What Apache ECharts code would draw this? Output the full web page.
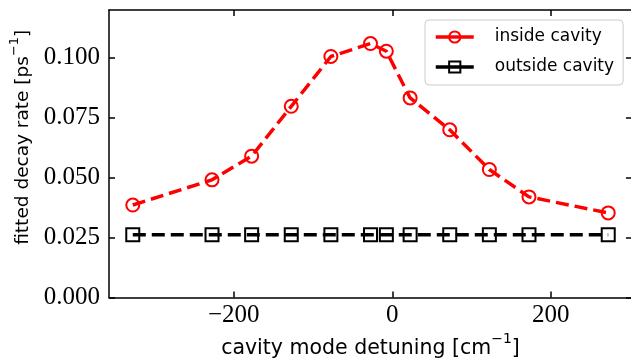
<!DOCTYPE html>
<html>
<head>
<meta charset="utf-8">
<script src="https://cdn.jsdelivr.net/npm/echarts@6/dist/echarts.min.js"></script>
<style>html,body{margin:0;padding:0;background:#fff;overflow:hidden;}#c{width:631px;height:360px;}</style>
</head>
<body>
<div id="c"></div>
<script>
var detuning = [-327.5, -227.5, -177.5, -127.5, -77.5, -27.5, -7.5, 22.5, 72.5, 122.5, 172.5, 272.5];
var insideRate = [0.0386, 0.0491, 0.0590, 0.0798, 0.1006, 0.1060, 0.1028, 0.0833, 0.0700, 0.0534, 0.0420, 0.0353];
var outsideRate = [0.0262, 0.0262, 0.0262, 0.0262, 0.0262, 0.0262, 0.0262, 0.0262, 0.0262, 0.0262, 0.0262, 0.0262];
var xTicks = [-200, 0, 200];
var yTicks = [0, 0.025, 0.05, 0.075, 0.1];
var seriesNames = ['inside cavity', 'outside cavity'];

var xMin = -357.5, xMax = 302.5, yMin = 0, yMax = 0.12;
var tickFont = 'Liberation Serif';
var sansFont = 'DejaVu Sans';

function pairs(xs, ys) { return xs.map(function (x, i) { return [x, ys[i]]; }); }
function fmtX(v) { return v < 0 ? '\u2212' + Math.abs(v) : String(v); }

var chart = echarts.init(document.getElementById('c'), null, { renderer: 'canvas' });

var baseTick = { show: true, inside: true, length: 6, lineStyle: { color: '#000', width: 1.5 } };
var baseLine = { show: true, onZero: false, lineStyle: { color: '#000', width: 1.5 } };

function nameRich(size) {
  return {
    t: { fontFamily: sansFont, fontSize: size, color: '#000', lineHeight: size + 6, verticalAlign: 'bottom' },
    s: { fontFamily: sansFont, fontSize: Math.round(size * 0.68), color: '#000', lineHeight: Math.round(size * 0.68), verticalAlign: 'top' }
  };
}

chart.setOption({
  animation: false,
  grid: { left: 109, right: -1, top: 10, bottom: 62.5, containLabel: false, outerBoundsMode: 'none' },
  legend: {
    orient: 'vertical',
    left: 425, top: 20,
    padding: [7, 9, 8, 9],
    itemGap: 10,
    itemWidth: 38,
    itemHeight: 14,
    backgroundColor: 'rgba(255,255,255,0.85)',
    borderColor: '#cccccc',
    borderWidth: 1,
    borderRadius: 4,
    lineStyle: { type: 'solid', width: 3.5 },
    textStyle: { fontFamily: sansFont, fontSize: 17, lineHeight: 20, color: '#000', padding: [0, 0, 0, 16] },
    data: seriesNames
  },
  xAxis: [{
    type: 'value', min: xMin, max: xMax, position: 'bottom',
    axisLine: baseLine,
    axisTick: Object.assign({}, baseTick, { customValues: xTicks }),
    axisLabel: { customValues: xTicks, formatter: fmtX, fontFamily: tickFont, fontSize: 25, color: '#000', margin: 5 },
    splitLine: { show: false },
    name: '{t|cavity mode detuning [cm}{s|\u22121}{t|]}',
    nameLocation: 'middle', nameGap: 35,
    nameTextStyle: { rich: nameRich(20.5) }
  }, {
    type: 'value', min: xMin, max: xMax, position: 'top',
    axisLine: baseLine,
    axisTick: Object.assign({}, baseTick, { customValues: xTicks }),
    axisLabel: { show: false },
    splitLine: { show: false }
  }],
  yAxis: [{
    type: 'value', min: yMin, max: yMax, position: 'left',
    axisLine: baseLine,
    axisTick: Object.assign({}, baseTick, { customValues: yTicks }),
    axisLabel: { customValues: yTicks, formatter: function (v) { return v.toFixed(3); }, fontFamily: tickFont, fontSize: 25, color: '#000', margin: 9 },
    splitLine: { show: false },
    name: '{t|fitted decay rate [ps}{s|\u22121}{t|]}',
    nameLocation: 'middle', nameGap: 68, nameRotate: 90,
    nameTextStyle: { rich: nameRich(18.5), padding: [0, 0, 0, 33] }
  }, {
    type: 'value', min: yMin, max: yMax, position: 'right',
    axisLine: baseLine,
    axisTick: Object.assign({}, baseTick, { customValues: yTicks }),
    axisLabel: { show: false },
    splitLine: { show: false }
  }],
  series: [{
    name: seriesNames[0],
    type: 'line',
    data: pairs(detuning, insideRate),
    symbol: 'circle', symbolSize: 13,
    lineStyle: { color: '#ff0000', width: 3.5, type: [13, 6] },
    itemStyle: { color: 'rgba(255,255,255,0)', borderColor: '#ff0000', borderWidth: 2 },
    z: 3
  }, {
    name: seriesNames[1],
    type: 'line',
    data: pairs(detuning, outsideRate),
    symbol: 'rect', symbolSize: 13,
    lineStyle: { color: '#000000', width: 3.5, type: [13, 6] },
    itemStyle: { color: 'rgba(255,255,255,0)', borderColor: '#000000', borderWidth: 2 },
    z: 2
  }]
});
</script>
</body>
</html>
